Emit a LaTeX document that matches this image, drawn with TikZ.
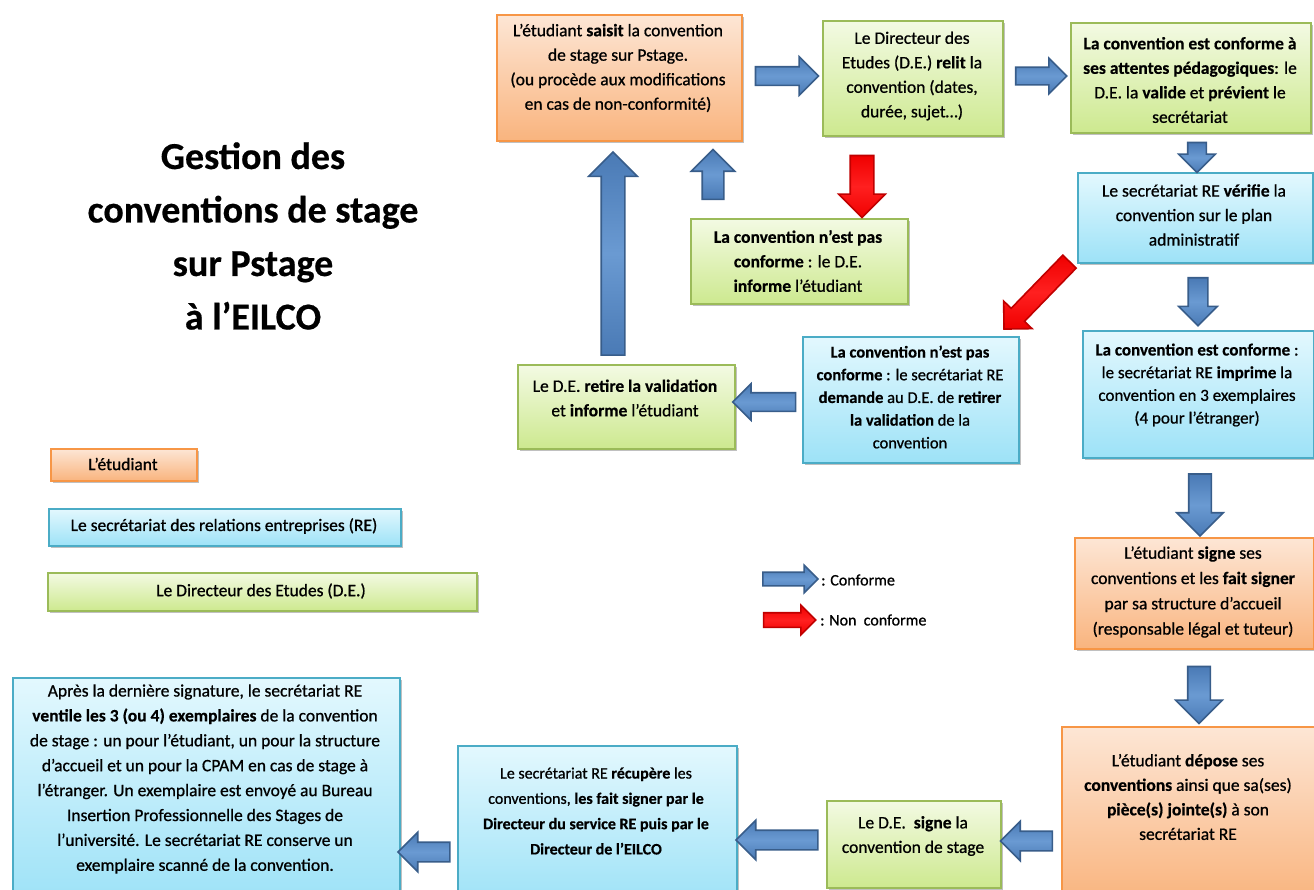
\documentclass[tikz,border=0pt]{standalone}
\usepackage{fontspec}
\setmainfont{Carlito}[UprightFeatures={FakeBold=0.8}, BoldFeatures={FakeBold=0.5}]
\usetikzlibrary{shapes.arrows,shadows}
\definecolor{orB}{HTML}{F79646}
\definecolor{orT}{HTML}{FDE6D5}
\definecolor{orM}{HTML}{F9B47E}
\definecolor{grB}{HTML}{9BBB59}
\definecolor{grT}{HTML}{F3FAE3}
\definecolor{grM}{HTML}{CDE98F}
\definecolor{blB}{HTML}{4BACC6}
\definecolor{blT}{HTML}{E3F8FE}
\definecolor{blM}{HTML}{9DE2F7}
\definecolor{arF}{HTML}{4A7AB5}
\definecolor{arL}{HTML}{6A9AD2}
\definecolor{arB}{HTML}{385D8A}
\definecolor{rdF}{HTML}{F00000}
\definecolor{rdL}{HTML}{FF2020}
\definecolor{rdB}{HTML}{C00000}
\begin{document}
\begin{tikzpicture}[x=1pt,y=-1pt,
  box/.style={rectangle, line width=1.6pt, inner sep=0pt, anchor=north west,
    drop shadow={shadow xshift=2.5pt,shadow yshift=-2.5pt,opacity=0.35,fill=black!70}},
  obox/.style={box, draw=orB, top color=orT, bottom color=orM},
  gbox/.style={box, draw=grB, top color=grT, bottom color=grM},
  cbox/.style={box, draw=blB, top color=blT, bottom color=blM},
  sz/.style 2 args={minimum width=#1pt, minimum height=#2pt},
  txt/.style={align=center, inner sep=0pt, font=\fontsize{17.5pt}{24.5pt}\selectfont},
  ttl/.style={align=center, inner sep=0pt, font=\fontsize{38pt}{53.5pt}\selectfont\bfseries},
  arrbase/.style={single arrow, inner xsep=0pt, line width=1.6pt, single arrow head indent=0pt},
  barrow/.style={arrbase, draw=arB, top color=arF, bottom color=arF, middle color=arL},
  rarrow/.style={arrbase, draw=rdB, top color=rdF, bottom color=rdF, middle color=rdL},
  conn/.style={sloped, allow upside down},
  asz/.style n args={3}{minimum height=#1pt, inner ysep=#2pt, single arrow head extend=#3pt}
]
\clip (0,0) rectangle (1314,889);
\fill[white] (0,0) rectangle (1314,889);

% title
\node[ttl] (title) at (253,236) {Gestion des\\conventions de stage\\sur Pstage\\à l’EILCO};

% boxes
\node[obox, sz={245}{126}] (b1) at (496,14) {};
\node[gbox, sz={180}{115}] (b2) at (822,20) {};
\node[gbox, sz={240}{110}] (b3) at (1070,22) {};
\node[cbox, sz={235}{90}] (b4) at (1077,172) {};
\node[gbox, sz={217}{85}] (b5) at (690,218) {};
\node[cbox, sz={216}{126}] (b6) at (802,336) {};
\node[gbox, sz={217}{84}] (b7) at (517,364) {};
\node[cbox, sz={231}{127}] (b8) at (1082,330) {};
\node[obox, sz={239}{111}] (b9) at (1074,537) {};
\node[obox, sz={270}{175}] (b10) at (1061,726) {};
\node[gbox, sz={174}{87}] (b11) at (826,800) {};
\node[cbox, sz={279}{160}] (b12) at (457,745) {};
\node[cbox, sz={387}{225}] (b13) at (12,677) {};

% legend boxes
\node[obox, sz={146}{32}] (lo) at (50,448) {};
\node[cbox, sz={352}{37}] (lb) at (48,508) {};
\node[gbox, sz={429}{38}] (lg) at (47,572) {};

% texts
\node[txt] (t1) at (618,68) {L’étudiant \textbf{saisit} la convention\\de stage sur Pstage.\\(ou procède aux modifications\\en cas de non-conformité)};
\node[txt] (t2) at (912,76) {Le Directeur des\\Etudes (D.E.) \textbf{relit} la\\convention (dates,\\durée, sujet…)};
\node[txt] (t3) at (1190,80) {\textbf{La convention est conforme à}\\\textbf{ses attentes pédagogiques}: le\\D.E. la \textbf{valide} et \textbf{prévient} le\\secrétariat};
\node[txt] (t4) at (1194,215) {Le secrétariat RE \textbf{vérifie} la\\convention sur le plan\\administratif};
\node[txt] (t5) at (798,261) {\textbf{La convention n’est pas}\\\textbf{conforme} : le D.E.\\\textbf{informe} l’étudiant};
\node[txt, font=\fontsize{16.5pt}{22.7pt}\selectfont] (t6) at (910,397) {\textbf{La convention n’est pas}\\\textbf{conforme} : le secrétariat RE\\\textbf{demande} au D.E. de \textbf{retirer}\\\textbf{la validation} de la\\convention};
\node[txt] (t7) at (625,398) {Le D.E. \textbf{retire la validation}\\et \textbf{informe} l’étudiant};
\node[txt, font=\fontsize{17pt}{22.7pt}\selectfont] (t8) at (1197,385) {\textbf{La convention est conforme} :\\le secrétariat RE \textbf{imprime} la\\convention en 3 exemplaires\\(4 pour l’étranger)};
\node[txt, font=\fontsize{17.5pt}{25.3pt}\selectfont] (t9) at (1193,592) {L’étudiant \textbf{signe} ses\\conventions et les \textbf{fait signer}\\par sa structure d’accueil\\(responsable légal et tuteur)};
\node[txt] (t10) at (1188,797) {L’étudiant \textbf{dépose} ses\\\textbf{conventions} ainsi que sa(ses)\\\textbf{pièce(s) jointe(s)} à son\\secrétariat RE};
\node[txt] (t11) at (913,836) {Le D.E.~~\textbf{signe} la\\convention de stage};
\node[txt, font=\fontsize{16pt}{25.3pt}\selectfont] (t12) at (596,811) {Le secrétariat RE \textbf{récupère} les\\conventions, \textbf{les fait signer par le}\\\textbf{Directeur du service RE puis par le}\\\textbf{Directeur de l’EILCO}};
\node[txt, font=\fontsize{17.5pt}{24.9pt}\selectfont] (t13) at (205,779) {Après la dernière signature, le secrétariat RE\\\textbf{ventile les 3 (ou 4) exemplaires} de la convention\\de stage : un pour l’étudiant, un pour la structure\\d’accueil et un pour la CPAM en cas de stage à\\l’étranger. Un exemplaire est envoyé au Bureau\\Insertion Professionnelle des Stages de\\l’université. Le secrétariat RE conserve un\\exemplaire scanné de la convention.};

\node[txt] (tlo) at (123,464) {L’étudiant};
\node[txt] (tlb) at (224,526) {Le secrétariat des relations entreprises (RE)};
\node[txt] (tlg) at (261,591) {Le Directeur des Etudes (D.E.)};

% connectors (block arrows)
\path (b1.east |- 0,76) -- (b2.west |- 0,76) node[midway, conn, barrow, asz={63}{8.5}{10}] (a12) {};
\path (b2.east |- 0,76) -- (b3.west |- 0,76) node[midway, conn, barrow, asz={51}{8}{9}] (a23) {};
\path (1197,0 |- b3.south) -- (1197,0 |- b4.north) node[midway, conn, barrow, asz={30}{8.5}{9}] (a34) {};
\path (862,0 |- b2.south) -- (862,0 |- b5.north) node[pos=0.54, conn, rarrow, asz={62}{11}{11.5}] (r25) {};
\path (713,0 |- b5.north) -- (713,0 |- b1.south) node[midway, conn, barrow, asz={50}{10}{11}] (a51) {};
\path (613,0 |- b7.north) -- (613,0 |- b1.south) node[pos=0.47, conn, barrow, asz={203}{11}{12.5}] (a71) {};
\coordinate (r46s) at (1073,258);
\coordinate (r46e) at (1007,326);
\path (r46s) -- (r46e) node[midway, conn, rarrow, asz={94}{8.5}{10.5}] (r46) {};
\path (1198,0 |- b4.south) -- (1198,0 |- b8.north) node[midway, conn, barrow, asz={48}{9}{9.5}] (a48) {};
\path (b6.west |- 0,402) -- (b7.east |- 0,402) node[midway, conn, barrow, asz={63}{8.5}{9}] (a67) {};
\path (1200,0 |- b8.south) -- (1200,0 |- b9.north) node[pos=0.52, conn, barrow, asz={62}{10.5}{12}] (a89) {};
\path (1199,0 |- b9.south) -- (1199,0 |- b10.north) node[pos=0.52, conn, barrow, asz={57}{10.5}{12}] (a910) {};
\path (b10.west |- 0,841) -- (b11.east |- 0,841) node[midway, conn, barrow, asz={52}{9}{10}] (a1011) {};
\path (b11.west |- 0,840) -- (b12.east |- 0,840) node[midway, conn, barrow, asz={82}{9}{10}] (a1112) {};
\path (b12.west |- 0,852) -- (b13.east |- 0,852) node[midway, conn, barrow, asz={52}{9}{10}] (a1213) {};

% legend arrows
\node[barrow, asz={55}{6}{7}] (lgb) at (787,579) {};
\node[rarrow, asz={52}{6.5}{7.5}] (lgr) at (786,620) {};
\node[txt, anchor=west, font=\fontsize{16pt}{19pt}\selectfont] (tgb) at (821,580) {: Conforme};
\node[txt, anchor=west, font=\fontsize{16pt}{19pt}\selectfont] (tgr) at (820,620) {: Non~~conforme};
\end{tikzpicture}
\end{document}
